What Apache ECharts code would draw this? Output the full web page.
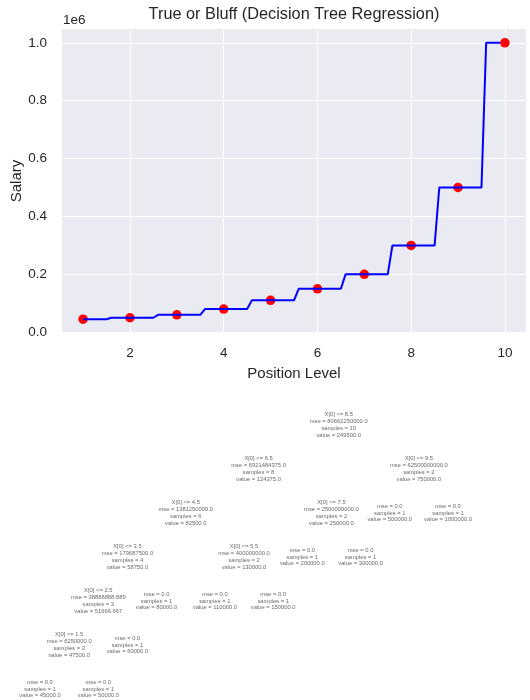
<!DOCTYPE html>
<html><head><meta charset="utf-8">
<script src="https://cdn.jsdelivr.net/npm/echarts@6/dist/echarts.min.js"></script>
<style>html,body{margin:0;padding:0;background:#fff}#c{width:530px;height:700px}</style>
</head><body><div id="c"></div>
<script>
// Observed data
const levels = [1,2,3,4,5,6,7,8,9,10];
const salaries = [45000,50000,60000,80000,110000,150000,200000,300000,500000,1000000];
// Model prediction line (step curve)
const gridX = [1.0,1.5,1.6,2.5,2.6,3.5,3.6,4.5,4.6,5.5,5.6,6.5,6.6,7.5,7.6,8.5,8.6,9.5,9.6,9.9];
const gridPred = [45000,45000,50000,50000,60000,60000,80000,80000,110000,110000,150000,150000,200000,200000,300000,300000,500000,500000,1000000,1000000];
// Decision tree nodes (pre-order)
const nodeLeft  = [1,2,3,4,5,6,-1,-1,-1,-1,11,-1,-1,14,-1,-1,17,-1,-1];
const nodeRight = [16,13,10,9,8,7,-1,-1,-1,-1,12,-1,-1,15,-1,-1,18,-1,-1];
const nodeThreshold = ['8.5','6.5','4.5','3.5','2.5','1.5',null,null,null,null,'5.5',null,null,'7.5',null,null,'9.5',null,null];
const nodeMse = ['80662250000.0','6921484375.0','1381250000.0','179687500.0','38888888.889','6250000.0','0.0','0.0','0.0','0.0','400000000.0','0.0','0.0','2500000000.0','0.0','0.0','62500000000.0','0.0','0.0'];
const nodeSamples = [10,8,6,4,3,2,1,1,1,1,2,1,1,2,1,1,2,1,1];
const nodeValue = ['249500.0','124375.0','82500.0','58750.0','51666.667','47500.0','45000.0','50000.0','60000.0','80000.0','130000.0','110000.0','150000.0','250000.0','200000.0','300000.0','750000.0','500000.0','1000000.0'];

function layoutTree(){
  const n = nodeLeft.length, x = new Array(n).fill(0), depth = new Array(n).fill(0);
  function shift(i, s){ x[i]+=s; if(nodeLeft[i]>=0){ shift(nodeLeft[i],s); shift(nodeRight[i],s);} }
  function lay(i, d){
    depth[i]=d;
    if(nodeLeft[i]<0){ x[i]=0; return {l:[0], r:[0]}; }
    const a = lay(nodeLeft[i], d+1), b = lay(nodeRight[i], d+1);
    let s = -Infinity;
    for(let k=0;k<Math.min(a.r.length,b.l.length);k++) s=Math.max(s, a.r[k]-b.l[k]+1);
    shift(nodeRight[i], s);
    x[i] = (x[nodeLeft[i]] + x[nodeRight[i]])/2;
    const L=[x[i]], R=[x[i]];
    const m=Math.max(a.l.length,b.l.length);
    for(let k=0;k<m;k++){
      L.push(k<a.l.length ? a.l[k] : b.l[k]+s);
      R.push(k<b.r.length ? b.r[k]+s : a.r[k]);
    }
    return {l:L, r:R};
  }
  lay(0,0);
  return {x, depth};
}
const tl = layoutTree();
function nodeText(i){
  const lines = [];
  if(nodeThreshold[i]!==null) lines.push('X[0] <= ' + nodeThreshold[i]);
  lines.push('mse = ' + nodeMse[i]);
  lines.push('samples = ' + nodeSamples[i]);
  lines.push('value = ' + nodeValue[i]);
  return lines.join('\n');
}
const treeData = nodeLeft.map((_, i) => [tl.x[i], tl.depth[i]]);
const txMin = Math.min(...tl.x), txMax = Math.max(...tl.x);
const maxDepth = Math.max(...tl.depth);

const FONT = 'Liberation Sans';
const TXT = '#262626';
const chart = echarts.init(document.getElementById('c'), null, {renderer:'canvas'});
chart.setOption({
  backgroundColor:'#ffffff',
  animation:false,
  title:[
    {text:'True or Bluff (Decision Tree Regression)', left:294, top:7, padding:0, textAlign:'center',
     textStyle:{fontFamily:FONT, fontSize:16.3, fontWeight:'normal', color:TXT}},
    {text:'1e6', left:63, top:13, padding:0,
     textStyle:{fontFamily:FONT, fontSize:13.5, fontWeight:'normal', color:TXT}}
  ],
  grid:[
    {left:62, right:4, top:29, bottom:367, show:true, backgroundColor:'#EAEAF2', borderWidth:0, outerBoundsMode:'none', containLabel:false},
    {left:40, right:82, top:425, bottom:11, outerBoundsMode:'none', containLabel:false}
  ],
  xAxis:[
    {type:'value', gridIndex:0, min:0.55, max:10.45,
     name:'Position Level', nameLocation:'middle', nameGap:33, nameMoveOverlap:false,
     nameTextStyle:{fontFamily:FONT, fontSize:15, color:TXT},
     axisLine:{show:false}, axisTick:{show:false},
     axisLabel:{fontFamily:FONT, fontSize:13.5, color:TXT, margin:13, showMinLabel:false, showMaxLabel:false},
     splitLine:{show:true, showMinLine:false, showMaxLine:false, lineStyle:{color:'#ffffff', width:1}}},
    {type:'value', gridIndex:1, min:txMin, max:txMax, show:false}
  ],
  yAxis:[
    {type:'value', gridIndex:0, min:-2750, max:1047750,
     name:'Salary', nameLocation:'middle', nameGap:38, nameRotate:90, nameMoveOverlap:false,
     nameTextStyle:{fontFamily:FONT, fontSize:15, color:TXT},
     axisLine:{show:false}, axisTick:{show:false},
     axisLabel:{fontFamily:FONT, fontSize:13.5, color:TXT, margin:15, showMinLabel:false, showMaxLabel:false,
       formatter:v => (v/1e6).toFixed(1)},
     splitLine:{show:true, showMinLine:false, showMaxLine:false, lineStyle:{color:'#ffffff', width:1}}},
    {type:'value', gridIndex:1, min:0, max:maxDepth, inverse:true, show:false}
  ],
  series:[
    {type:'scatter', xAxisIndex:0, yAxisIndex:0, data:levels.map((v,i)=>[v, salaries[i]]),
     symbolSize:9.5, itemStyle:{color:'#ff0000', opacity:1}, z:2},
    {type:'line', xAxisIndex:0, yAxisIndex:0, data:gridX.map((v,i)=>[v, gridPred[i]]),
     showSymbol:false, lineStyle:{color:'#0000ff', width:2}, z:3},
    {type:'scatter', xAxisIndex:1, yAxisIndex:1, data:treeData, symbolSize:1,
     itemStyle:{color:'rgba(0,0,0,0)'}, silent:true,
     label:{show:true, position:'inside', formatter:p => nodeText(p.dataIndex),
       fontFamily:FONT, fontSize:5.8, lineHeight:6.8, color:'#444', align:'center', verticalAlign:'middle'}}
  ]
});
</script></body></html>
